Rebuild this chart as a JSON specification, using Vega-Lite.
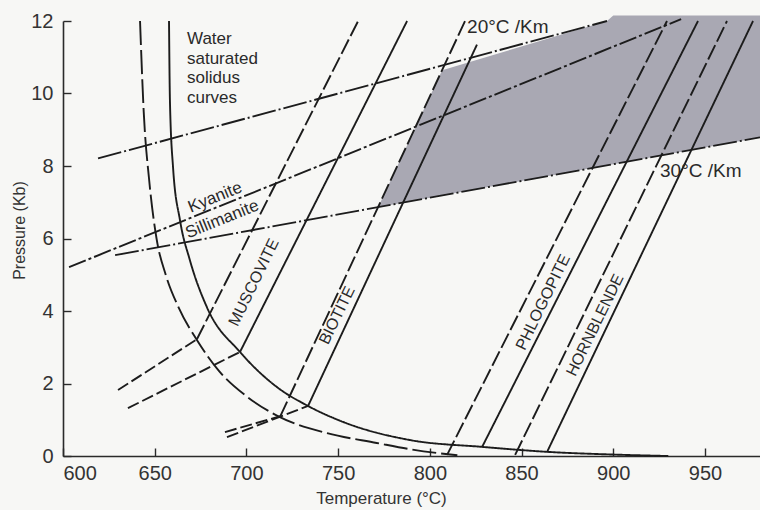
{
  "$schema": "https://vega.github.io/schema/vega-lite/v6.json",
  "width": 697,
  "height": 435,
  "autosize": {"type": "none"},
  "padding": {"left": 63, "top": 21, "right": 0, "bottom": 54},
  "background": "#f7f7f5",
  "config": {
    "view": {"stroke": null},
    "font": "Liberation Sans",
    "axis": {
      "grid": false,
      "domainColor": "#2a2a2a",
      "domainWidth": 1.6,
      "tickColor": "#2a2a2a",
      "tickWidth": 1.4,
      "tickSize": -8,
      "labelFont": "Liberation Sans",
      "labelFontSize": 20,
      "labelColor": "#333333",
      "titleFont": "Liberation Sans",
      "titleFontWeight": "normal",
      "titleColor": "#333333"
    }
  },
  "datasets": {
    "lines": [
      {"id": "sol_d", "style": "dashS", "o": 1, "T": 642, "P": 12},
      {"id": "sol_d", "style": "dashS", "o": 2, "T": 644, "P": 9.5},
      {"id": "sol_d", "style": "dashS", "o": 3, "T": 647, "P": 7.6},
      {"id": "sol_d", "style": "dashS", "o": 4, "T": 651, "P": 6.0},
      {"id": "sol_d", "style": "dashS", "o": 5, "T": 656, "P": 5.0},
      {"id": "sol_d", "style": "dashS", "o": 6, "T": 663, "P": 4.1},
      {"id": "sol_d", "style": "dashS", "o": 7, "T": 673, "P": 3.2},
      {"id": "sol_d", "style": "dashS", "o": 8, "T": 685, "P": 2.35},
      {"id": "sol_d", "style": "dashS", "o": 9, "T": 700, "P": 1.65},
      {"id": "sol_d", "style": "dashS", "o": 10, "T": 718, "P": 1.08},
      {"id": "sol_d", "style": "dashS", "o": 11, "T": 744, "P": 0.63},
      {"id": "sol_d", "style": "dashS", "o": 12, "T": 771, "P": 0.36},
      {"id": "sol_d", "style": "dashS", "o": 13, "T": 790, "P": 0.18},
      {"id": "sol_d", "style": "dashS", "o": 14, "T": 806, "P": 0.07},
      {"id": "sol_d", "style": "dashS", "o": 15, "T": 815, "P": 0.02},
      {"id": "sol_s", "style": "solid", "o": 1, "T": 657.8, "P": 12},
      {"id": "sol_s", "style": "solid", "o": 2, "T": 658.3, "P": 9.8},
      {"id": "sol_s", "style": "solid", "o": 3, "T": 660, "P": 7.96},
      {"id": "sol_s", "style": "solid", "o": 4, "T": 663.8, "P": 6.5},
      {"id": "sol_s", "style": "solid", "o": 5, "T": 669.2, "P": 5.4},
      {"id": "sol_s", "style": "solid", "o": 6, "T": 678.5, "P": 4.1},
      {"id": "sol_s", "style": "solid", "o": 7, "T": 696.5, "P": 2.87},
      {"id": "sol_s", "style": "solid", "o": 8, "T": 716.7, "P": 1.9},
      {"id": "sol_s", "style": "solid", "o": 9, "T": 733.6, "P": 1.38},
      {"id": "sol_s", "style": "solid", "o": 10, "T": 752.7, "P": 0.94},
      {"id": "sol_s", "style": "solid", "o": 11, "T": 789.2, "P": 0.44},
      {"id": "sol_s", "style": "solid", "o": 12, "T": 829, "P": 0.25},
      {"id": "sol_s", "style": "solid", "o": 13, "T": 865.5, "P": 0.11},
      {"id": "sol_s", "style": "solid", "o": 14, "T": 900, "P": 0.04},
      {"id": "sol_s", "style": "solid", "o": 15, "T": 930, "P": 0},
      {"id": "musc_d_up", "style": "dash", "o": 1, "T": 673, "P": 3.22},
      {"id": "musc_d_up", "style": "dash", "o": 2, "T": 760.9, "P": 12},
      {"id": "musc_d_low", "style": "dashLow", "o": 1, "T": 630, "P": 1.82},
      {"id": "musc_d_low", "style": "dashLow", "o": 2, "T": 673, "P": 3.22},
      {"id": "musc_s_up", "style": "solid", "o": 1, "T": 696.5, "P": 2.87},
      {"id": "musc_s_up", "style": "solid", "o": 2, "T": 787.6, "P": 12},
      {"id": "musc_s_low", "style": "dashLow", "o": 1, "T": 635.4, "P": 1.32},
      {"id": "musc_s_low", "style": "dashLow", "o": 2, "T": 696.5, "P": 2.87},
      {"id": "bio_d_up", "style": "dash", "o": 1, "T": 718.5, "P": 1.1},
      {"id": "bio_d_up", "style": "dash", "o": 2, "T": 819.2, "P": 12},
      {"id": "bio_d_low", "style": "dashLow", "o": 1, "T": 688.3, "P": 0.66},
      {"id": "bio_d_low", "style": "dashLow", "o": 2, "T": 718.5, "P": 1.1},
      {"id": "bio_s_up", "style": "solid", "o": 1, "T": 733.6, "P": 1.38},
      {"id": "bio_s_up", "style": "solid", "o": 2, "T": 825.7, "P": 11.35},
      {"id": "bio_s_low", "style": "dashLow", "o": 1, "T": 689.4, "P": 0.52},
      {"id": "bio_s_low", "style": "dashLow", "o": 2, "T": 733.6, "P": 1.38},
      {"id": "phl_d", "style": "dash", "o": 1, "T": 809.4, "P": 0.03},
      {"id": "phl_d", "style": "dash", "o": 2, "T": 929.3, "P": 12},
      {"id": "phl_s", "style": "solid", "o": 1, "T": 828.5, "P": 0.25},
      {"id": "phl_s", "style": "solid", "o": 2, "T": 946.2, "P": 12},
      {"id": "hbl_d", "style": "dash", "o": 1, "T": 846.5, "P": 0.03},
      {"id": "hbl_d", "style": "dash", "o": 2, "T": 962, "P": 12},
      {"id": "hbl_s", "style": "solid", "o": 1, "T": 863.9, "P": 0.11},
      {"id": "hbl_s", "style": "solid", "o": 2, "T": 976.2, "P": 12},
      {"id": "g20", "style": "dashdot", "o": 1, "T": 619.1, "P": 8.21},
      {"id": "g20", "style": "dashdot", "o": 2, "T": 896.6, "P": 12.0},
      {"id": "g30", "style": "dashdot", "o": 1, "T": 628.4, "P": 5.54},
      {"id": "g30", "style": "dashdot", "o": 2, "T": 980, "P": 8.79},
      {"id": "kysil", "style": "kysil", "o": 1, "T": 603.3, "P": 5.21},
      {"id": "kysil", "style": "kysil", "o": 2, "T": 937, "P": 12.05}
    ],
    "shade": [
      {"T": 771.8, "top": 6.865, "bottom": 6.865},
      {"T": 806.7, "top": 10.643, "bottom": 7.187},
      {"T": 896.6, "top": 12.0, "bottom": 8.018},
      {"T": 900, "top": 12.15, "bottom": 8.049},
      {"T": 980, "top": 12.15, "bottom": 8.788}
    ],
    "labels": [
      {"kind": "note", "label": "Water", "T": 667.6, "P": 11.5},
      {"kind": "note", "label": "saturated", "T": 667.6, "P": 10.96},
      {"kind": "note", "label": "solidus", "T": 667.6, "P": 10.42},
      {"kind": "note", "label": "curves", "T": 667.6, "P": 9.88},
      {"kind": "geo", "label": "20°C /Km", "T": 820.3, "P": 11.84},
      {"kind": "geo", "label": "30°C /Km", "T": 925.5, "P": 7.85},
      {"kind": "ky", "label": "Kyanite", "T": 682.9, "P": 7.13},
      {"kind": "ky", "label": "Sillimanite", "T": 686.8, "P": 6.53},
      {"kind": "min", "label": "MUSCOVITE", "T": 704.1, "P": 4.79},
      {"kind": "min", "label": "BIOTITE", "T": 749.4, "P": 3.88},
      {"kind": "min", "label": "PHLOGOPITE", "T": 861.7, "P": 4.24},
      {"kind": "min", "label": "HORNBLENDE", "T": 890.1, "P": 3.61}
    ]
  },
  "layer": [
    {
      "data": {"name": "shade"},
      "mark": {"type": "area", "color": "#a9a8b3", "opacity": 1},
      "encoding": {
        "x": {"field": "T", "type": "quantitative", "scale": {"domain": [600, 980], "nice": false, "zero": false},
              "axis": {"values": [600, 650, 700, 750, 800, 850, 900, 950], "title": "Temperature (°C)", "titleFontSize": 17, "titleX": 318, "titleY": 42, "titleBaseline": "middle", "labelPadding": 15}},
        "y": {"field": "top", "type": "quantitative", "scale": {"domain": [0, 12], "nice": false},
              "axis": {"values": [0, 2, 4, 6, 8, 10, 12], "title": "Pressure (Kb)", "titleFontSize": 16, "titleX": -44, "titleY": 209, "titleBaseline": "middle", "labelPadding": 18}},
        "y2": {"field": "bottom"}
      }
    },
    {
      "data": {"name": "lines"},
      "mark": {"type": "line", "interpolate": "monotone", "strokeWidth": 1.9, "color": "#1c1c1c"},
      "encoding": {
        "x": {"field": "T", "type": "quantitative"},
        "y": {"field": "P", "type": "quantitative"},
        "detail": {"field": "id", "type": "nominal"},
        "order": {"field": "o", "type": "quantitative"},
        "strokeDash": {"field": "style", "type": "nominal", "legend": null,
          "scale": {"domain": ["solid", "dash", "dashS", "dashLow", "dashdot", "kysil"],
                    "range": [[1, 0], [16, 4], [24, 5], [12, 4], [24, 3, 2, 3], [18, 3, 3, 3]]}}
      }
    },
    {
      "data": {"name": "labels"},
      "transform": [{"filter": "datum.kind === 'note'"}],
      "mark": {"type": "text", "align": "left", "baseline": "middle", "fontSize": 17, "color": "#2a2a2a"},
      "encoding": {
        "x": {"field": "T", "type": "quantitative"},
        "y": {"field": "P", "type": "quantitative"},
        "text": {"field": "label"}
      }
    },
    {
      "data": {"name": "labels"},
      "transform": [{"filter": "datum.kind === 'geo'"}],
      "mark": {"type": "text", "align": "left", "baseline": "middle", "fontSize": 19, "color": "#2a2a2a"},
      "encoding": {
        "x": {"field": "T", "type": "quantitative"},
        "y": {"field": "P", "type": "quantitative"},
        "text": {"field": "label"}
      }
    },
    {
      "data": {"name": "labels"},
      "transform": [{"filter": "datum.kind === 'ky'"}],
      "mark": {"type": "text", "align": "center", "baseline": "middle", "fontSize": 17, "angle": -22, "color": "#2a2a2a"},
      "encoding": {
        "x": {"field": "T", "type": "quantitative"},
        "y": {"field": "P", "type": "quantitative"},
        "text": {"field": "label"}
      }
    },
    {
      "data": {"name": "labels"},
      "transform": [{"filter": "datum.kind === 'min'"}],
      "mark": {"type": "text", "align": "center", "baseline": "middle", "fontSize": 16, "angle": -64, "color": "#2a2a2a"},
      "encoding": {
        "x": {"field": "T", "type": "quantitative"},
        "y": {"field": "P", "type": "quantitative"},
        "text": {"field": "label"}
      }
    }
  ]
}
